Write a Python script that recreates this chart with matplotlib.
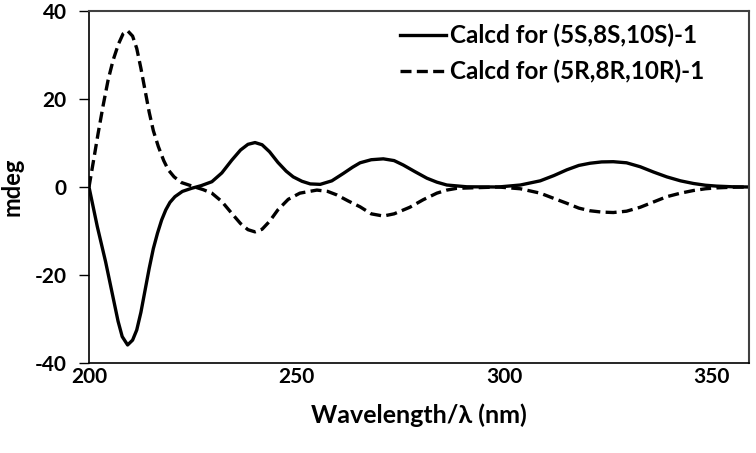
import matplotlib.pyplot as plt

# CD spectra (wavelength in nm, mdeg)
wl_s = [200, 201, 202, 203, 204, 205, 206, 207, 208, 209.3, 210.5, 211.5, 212.5,
        213.5, 214.5, 215.5, 216.5, 217.5, 218.5, 219.5, 220.7, 222.5, 224.7, 227,
        229.6, 232, 234.4, 236.5, 238.3, 240, 241.7, 243.5, 245.5, 247.5, 249.2,
        251.3, 253.3, 255.7, 258.5, 261.3, 263.5, 265.3, 268, 270.9, 273.5, 275.7,
        278.5, 281.4, 283.8, 286.2, 291, 298.6, 303.9, 308.7, 312, 315.1, 318,
        320.7, 323.5, 326.3, 329.5, 332.8, 336, 339.2, 342.5, 345.6, 348.5, 351.2,
        355, 359]
cd_s = [0, -4.5, -9, -13, -17, -21.5, -26, -30.5, -34, -35.9, -34.8, -32.5, -28.5,
        -23.5, -18.5, -14, -10.5, -7.5, -5.2, -3.5, -2.2, -1.0, -0.3, 0.3,
        1.2, 3.2, 6.1, 8.4, 9.7, 10.1, 9.6, 8.0, 5.6, 3.6, 2.3,
        1.3, 0.7, 0.6, 1.4, 3.1, 4.5, 5.5, 6.2, 6.4, 6.0, 5.0,
        3.5, 2.0, 1.1, 0.45, 0.05, 0.0, 0.45, 1.4, 2.6, 3.9, 4.9,
        5.4, 5.7, 5.75, 5.5, 4.6, 3.4, 2.3, 1.4, 0.8, 0.4, 0.2,
        0.05, 0]

wl_r = [200, 201, 202.2, 203.4, 204.6, 205.8, 207.1, 208.2, 209.3, 210.5, 211.5,
        212.5, 213.5, 214.5, 215.5, 216.7, 218, 219.1, 220.5, 222.3, 225.5, 227.5,
        229.6, 232, 234.4, 236.5, 238.3, 240, 241.7, 243.5, 245.5, 248, 250.8,
        254.9, 257.5, 259.7, 262.5, 265.3, 268, 270.9, 273.5, 277.3, 280.5, 283.8,
        286.2, 288.6, 298.6, 303.9, 308.7, 312, 315.1, 318, 320.7, 323.5, 326.3,
        329.5, 332.8, 336, 339.2, 342.5, 345.6, 348.5, 351.2, 355, 359]
cd_r = [0, 5.5, 12.2, 18.5, 24.3, 28.8, 32.5, 34.8, 35.5, 34.3, 31.5,
        27.0, 22.0, 17.0, 12.8, 9.2, 6.0, 3.9, 2.3, 1.0, 0.0, -0.6,
        -1.4, -3.3, -6.0, -8.3, -9.7, -10.2, -9.6, -7.8, -5.2, -2.8, -1.4,
        -0.7, -1.0, -1.8, -3.2, -4.5, -6.1, -6.6, -6.1, -4.6, -2.9, -1.4,
        -0.7, -0.3, 0.0, -0.4, -1.4, -2.6, -3.7, -4.8, -5.4, -5.7, -5.8,
        -5.5, -4.6, -3.4, -2.2, -1.4, -0.8, -0.4, -0.2, -0.05, 0]

labels = ['Calcd for (5S,8S,10S)-1', 'Calcd for (5R,8R,10R)-1']

plt.rcParams['font.family'] = ['Lato', 'DejaVu Sans']
plt.rcParams['font.weight'] = 'bold'
plt.rcParams['axes.unicode_minus'] = False

fig = plt.figure(figsize=(7.56, 4.53), dpi=100)
ax = fig.add_axes([89 / 756, 90 / 453, 660 / 756, 352 / 453])

ax.plot(wl_s, cd_s, color='black', lw=2.4, label=labels[0])
ax.plot(wl_r, cd_r, color='black', lw=2.4, linestyle=(0, (3.3, 1.6)), label=labels[1])

ax.set_xlim(200, 359)
ax.set_ylim(-40, 40)
ax.set_xticks([200, 250, 300, 350])
ax.set_yticks([-40, -20, 0, 20, 40])
ax.tick_params(axis='x', length=0, pad=3, labelsize=15)
ax.tick_params(axis='y', length=7, width=1, pad=9, labelsize=15)
for lbl in ax.get_xticklabels() + ax.get_yticklabels():
    lbl.set_fontweight('bold')

for side in ['left', 'bottom']:
    ax.spines[side].set_color('black')
    ax.spines[side].set_linewidth(1.2)
for side in ['top', 'right']:
    ax.spines[side].set_color('#404040')
    ax.spines[side].set_linewidth(1.5)

ax.set_xlabel('Wavelength/λ (nm)', fontsize=18, fontweight='bold', labelpad=12)
ax.set_ylabel('mdeg', fontsize=17, fontweight='bold', labelpad=8)

leg = ax.legend(loc='upper left', bbox_to_anchor=(400 / 756, 1 - 24 / 453),
                bbox_transform=fig.transFigure, frameon=False, fontsize=17.5,
                handlelength=1.9, handletextpad=0.15, borderpad=0, borderaxespad=0,
                labelspacing=0.5)
for t in leg.get_texts():
    t.set_fontweight('bold')

fig.savefig('out.png', dpi=100)
